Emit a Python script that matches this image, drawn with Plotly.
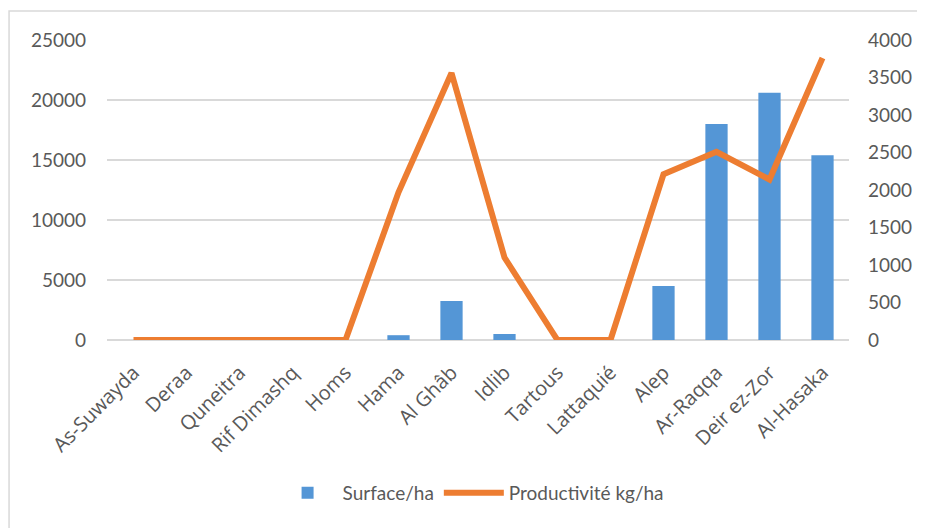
import plotly.graph_objects as go

categories = ["As-Suwayda", "Deraa", "Quneitra", "Rif Dimashq", "Homs", "Hama", "Al Ghâb",
              "Idlib", "Tartous", "Lattaquié", "Alep", "Ar-Raqqa", "Deir ez-Zor", "Al-Hasaka"]
surface = [0, 0, 0, 0, 0, 400, 3250, 500, 0, 0, 4500, 18000, 20600, 15400]
productivite = [0, 0, 0, 0, 0, 1970, 3560, 1100, 0, 0, 2210, 2510, 2140, 3760]
left_ticks = [0, 5000, 10000, 15000, 20000, 25000]
right_ticks = [0, 500, 1000, 1500, 2000, 2500, 3000, 3500, 4000]

FONT = "Lato, Liberation Sans, sans-serif"
XFONT = "Open Sans, Lato, sans-serif"
GRAY = "#595959"
FS = 19

fig = go.Figure()
fig.add_trace(go.Bar(
    x=categories, y=surface, name="Surface/ha",
    marker=dict(color="#5496D6", line=dict(width=0)),
    width=0.42, yaxis="y",
))
fig.add_trace(go.Scatter(
    x=categories, y=productivite, name="Productivité kg/ha",
    mode="lines", line=dict(color="#ED7D31", width=6),
    yaxis="y2",
))

fig.update_layout(
    width=925, height=528,
    margin=dict(l=99, r=84, t=32, b=196),
    paper_bgcolor="white", plot_bgcolor="white",
    font=dict(family=FONT, size=FS, color=GRAY),
    showlegend=True,
    legend=dict(orientation="h", x=0.49, xanchor="center", y=-0.51, yanchor="middle",
                font=dict(size=FS, color=GRAY), itemwidth=60),
    xaxis=dict(showgrid=False, tickangle=-45, ticks="", showline=False,
               ticklabelstandoff=16,
               tickfont=dict(family=XFONT, size=20, color=GRAY)),
    yaxis=dict(range=[0, 25000], tickvals=left_ticks, tickformat="d", showgrid=True,
               gridcolor="#D9D9D9", gridwidth=1.5, zeroline=True,
               zerolinecolor="#D9D9D9", zerolinewidth=1.5, ticks="",
               ticklabelstandoff=20,
               showline=False, tickfont=dict(size=FS, color=GRAY)),
    yaxis2=dict(range=[0, 4000], tickvals=right_ticks, tickformat="d", overlaying="y",
                side="right", showgrid=False, zeroline=False, ticks="", showline=False,
                ticklabelstandoff=18,
                tickfont=dict(size=FS, color=GRAY)),
    shapes=[dict(type="rect", xref="paper", yref="paper",
                 x0=-0.132, x1=1.3, y0=-0.8, y1=1.0967,
                 line=dict(color="#D9D9D9", width=1.5), fillcolor="rgba(0,0,0,0)",
                 layer="below")],
)

fig.write_html("out.html")
